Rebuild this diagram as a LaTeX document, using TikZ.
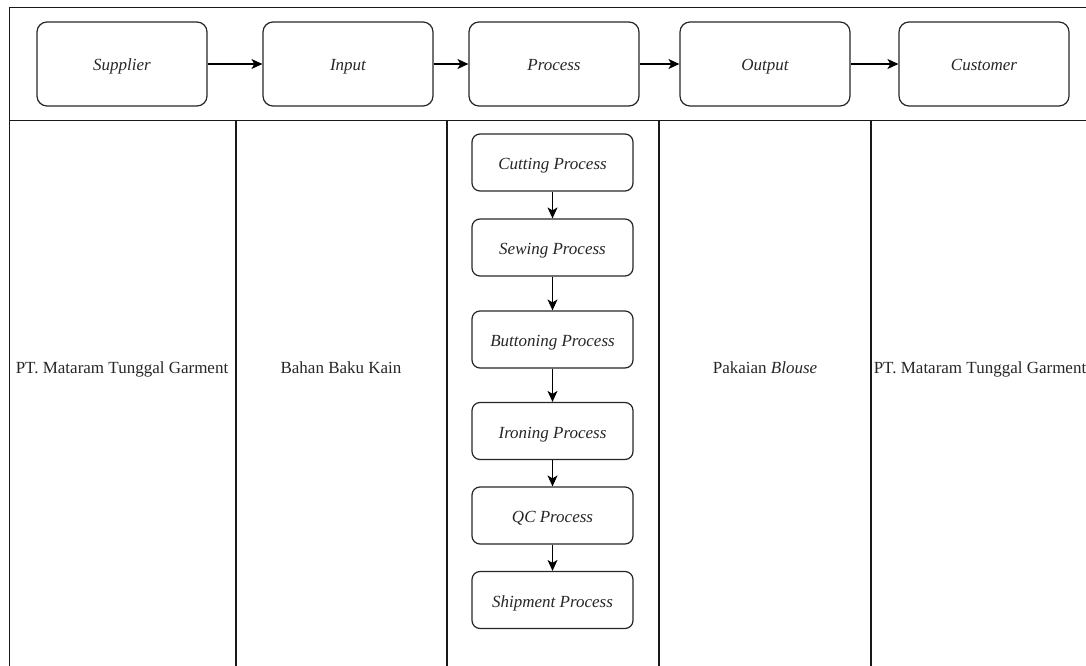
\documentclass[tikz,border=0pt]{standalone}
\usepackage{fontspec}
\setmainfont{Liberation Serif}
\usetikzlibrary{arrows.meta}
\begin{document}
\begin{tikzpicture}[x=1pt,y=-1pt,
  txt/.style={font=\fontsize{17}{20}\selectfont, text=black!85, text height=15pt, text depth=1pt, inner sep=0pt},
  frameline/.style={draw=black!90, line width=1.5pt},
  stagebox/.style={txt, draw=black!85, line width=1.2pt, rounded corners=10pt,
    minimum width=170pt, minimum height=84pt, font=\fontsize{17}{20}\selectfont\itshape},
  procbox/.style={txt, draw=black!85, line width=1.2pt, rounded corners=8pt,
    minimum width=161pt, minimum height=57pt, font=\fontsize{17}{20}\selectfont\itshape},
  flow/.style={draw=black, line width=1.2pt, -{Stealth[length=11pt,width=10pt,inset=3pt]}}
]
\useasboundingbox (0,0) rectangle (1086,666);

% table frame
\coordinate (tl) at (9.5,7.5);
\coordinate (tr) at (1090,7.5);
\coordinate (bl) at (9.5,670);
\coordinate (ml) at (9.5,120.5);
\coordinate (mr) at (1090,120.5);
\draw[frameline] (bl) -- (tl) -- (tr);
\draw[frameline] (ml) -- (mr);
\foreach \x in {236,447,659,871}{
  \draw[frameline] (\x,120.5) -- (\x,670);
}

% SIPOC stages
\node[stagebox] (sup) at (122,64) {Supplier};
\node[stagebox] (inp) at (348,64) {Input};
\node[stagebox] (pro) at (554,64) {Process};
\node[stagebox] (out) at (765,64) {Output};
\node[stagebox] (cus) at (984,64) {Customer};
\draw[flow] (sup) -- (inp);
\draw[flow] (inp) -- (pro);
\draw[flow] (pro) -- (out);
\draw[flow] (out) -- (cus);

% column contents
\node[txt] (c1) at (122,366) {PT. Mataram Tunggal Garment};
\node[txt] (c2) at (341,366) {Bahan Baku Kain};
\node[txt] (c4) at (765,366) {Pakaian \textit{Blouse}};
\node[txt] (c5) at (980,366) {PT. Mataram Tunggal Garment};

% production steps
\node[procbox] (p1) at (552.5,162.5) {Cutting Process};
\node[procbox] (p2) at (552.5,247.5) {Sewing Process};
\node[procbox] (p3) at (552.5,339.5) {Buttoning Process};
\node[procbox] (p4) at (552.5,431) {Ironing Process};
\node[procbox] (p5) at (552.5,515.5) {QC Process};
\node[procbox] (p6) at (552.5,600) {Shipment Process};
\draw[flow] (p1) -- (p2);
\draw[flow] (p2) -- (p3);
\draw[flow] (p3) -- (p4);
\draw[flow] (p4) -- (p5);
\draw[flow] (p5) -- (p6);
\end{tikzpicture}
\end{document}
